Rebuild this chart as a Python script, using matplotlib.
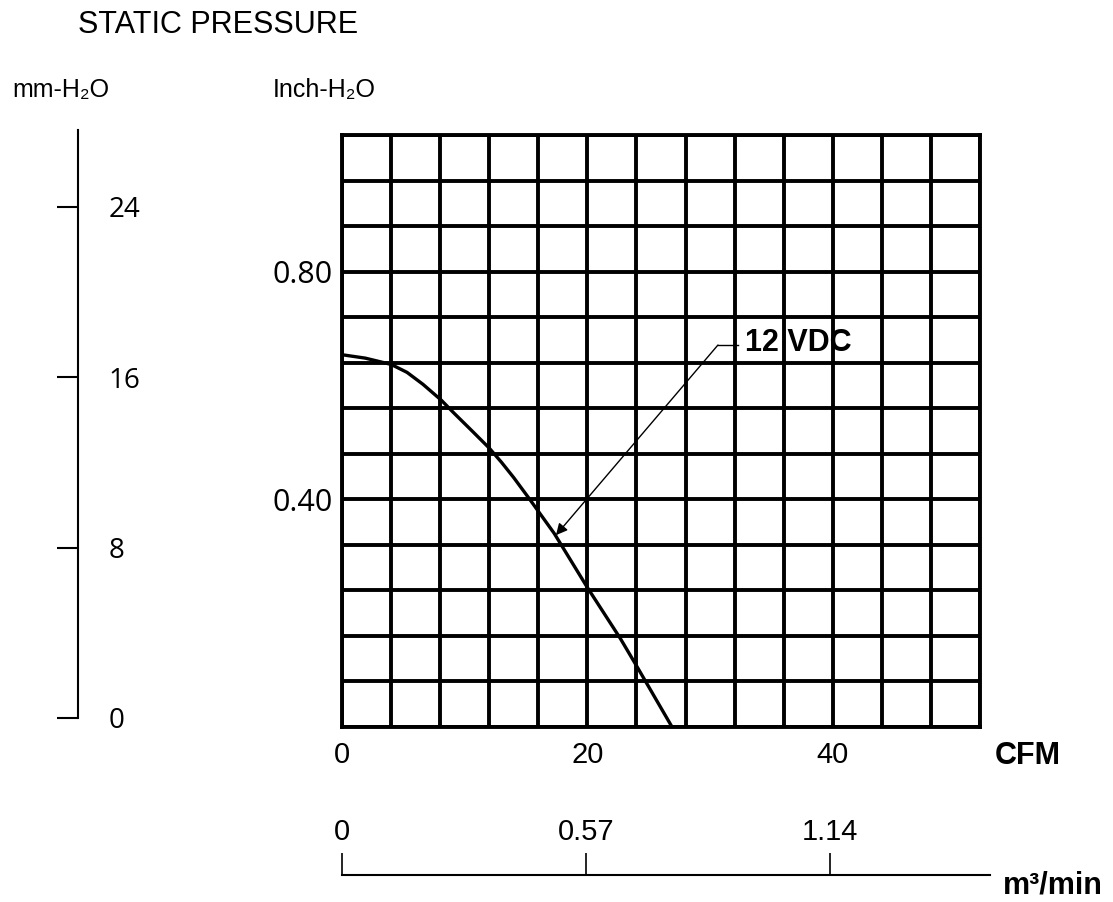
import numpy as np
import matplotlib
matplotlib.use("Agg")
import matplotlib.pyplot as plt

plt.rcParams['font.family'] = ['Liberation Sans', 'DejaVu Sans']

# 12 VDC fan curve: airflow (CFM) vs static pressure (inch-H2O)
cfm = [0, 1.9, 4.0, 5.3, 6.6, 8.1, 9.1, 10.7, 12.0, 13.0, 14.0, 15.3, 17.3, 20.0, 22.7, 24.1, 26.9]
pressure_in = [0.654, 0.648, 0.637, 0.623, 0.602, 0.574, 0.552, 0.518, 0.490, 0.465, 0.438,
               0.400, 0.340, 0.245, 0.155, 0.104, 0.0]

cfm_ticks = [0, 20, 40]
cfm_grid = np.arange(0, 53, 4)
in_ticks = [0.40, 0.80]
in_grid = np.arange(0, 1.05, 0.08)
mm_ticks = [0, 8, 16, 24]
m3_ticks = [0, 0.57, 1.14]
m3_labels = ['0', '0.57', '1.14']

W, H = 1113, 902
fig = plt.figure(figsize=(W / 100, H / 100), dpi=100)

def frac(x0, y0, x1, y1):
    # pixel box -> figure fraction [left, bottom, width, height]
    return [x0 / W, 1 - y1 / H, (x1 - x0) / W, (y1 - y0) / H]

# main grid
ax = fig.add_axes(frac(342, 135, 980, 727))
ax.set_xlim(0, 52)
ax.set_ylim(0, 1.04)
ax.set_xticks(cfm_ticks)
ax.set_xticks(cfm_grid, minor=True)
ax.set_yticks(in_ticks)
ax.set_yticklabels(['%.2f' % v for v in in_ticks])
ax.set_yticks(in_grid, minor=True)
ax.grid(which='both', color='black', lw=2.8)
ax.tick_params(which='both', length=0)
ax.tick_params(axis='x', pad=10, labelsize=21)
ax.tick_params(axis='y', pad=7, labelsize=22)
for lab in ax.get_yticklabels():
    lab.set_family(['Open Sans', 'DejaVu Sans'])
for s in ax.spines.values():
    s.set_linewidth(2.8)
ax.set_axisbelow(True)

ax.plot(cfm, pressure_in, color='black', lw=2.4, solid_capstyle='butt', clip_on=False)

# label leader
ax.plot([30.64, 32.3], [0.671, 0.671], color='black', lw=1)
ax.annotate('', xy=(17.44, 0.337), xytext=(30.64, 0.671),
            arrowprops=dict(arrowstyle='-|>', lw=1, color='black', mutation_scale=17,
                            shrinkA=0, shrinkB=0))
ax.text(32.85, 0.675, '12 VDC', fontsize=22, fontweight='bold', va='center', ha='left')

ax.text(1.0235, -0.049, 'CFM', transform=ax.transAxes, fontsize=22, fontweight='bold',
        va='center', ha='left')

# mm-H2O scale on the left
axm = fig.add_axes(frac(0, 130, 78, 718))
axm.set_ylim(0, 27.6)
axm.set_xticks([])
axm.set_yticks(mm_ticks)
axm.yaxis.tick_right()
axm.tick_params(axis='y', direction='in', length=15, width=1.5, pad=22, labelsize=20)
for lab in axm.get_yticklabels():
    lab.set_family(['Open Sans', 'DejaVu Sans'])
for k in ['left', 'top', 'bottom']:
    axm.spines[k].set_visible(False)
axm.spines['right'].set_linewidth(1.5)
axm.patch.set_visible(False)

# m3/min scale at the bottom
axq = fig.add_axes(frac(342, 875, 990, 900))
axq.set_xlim(0, 1.514)
axq.set_yticks([])
axq.xaxis.tick_top()
axq.set_xticks(m3_ticks)
axq.set_xticklabels(m3_labels)
axq.tick_params(axis='x', direction='out', length=16, width=1.2, pad=5, labelsize=21)
for k in ['left', 'right', 'bottom']:
    axq.spines[k].set_visible(False)
axq.spines['top'].set_linewidth(1.5)
axq.patch.set_visible(False)

fig.text(1003 / W, 1 - 885 / H, 'm³/min', fontsize=22, fontweight='bold', va='center', ha='left')
fig.text(78 / W, 1 - 25 / H, 'STATIC PRESSURE', fontsize=22, va='center', ha='left')
fig.text(12 / W, 1 - 90 / H, 'mm-H₂O', fontsize=18, va='center', ha='left')
fig.text(273 / W, 1 - 90 / H, 'Inch-H₂O', fontsize=18, va='center', ha='left')

fig.savefig('out.png', dpi=100)
